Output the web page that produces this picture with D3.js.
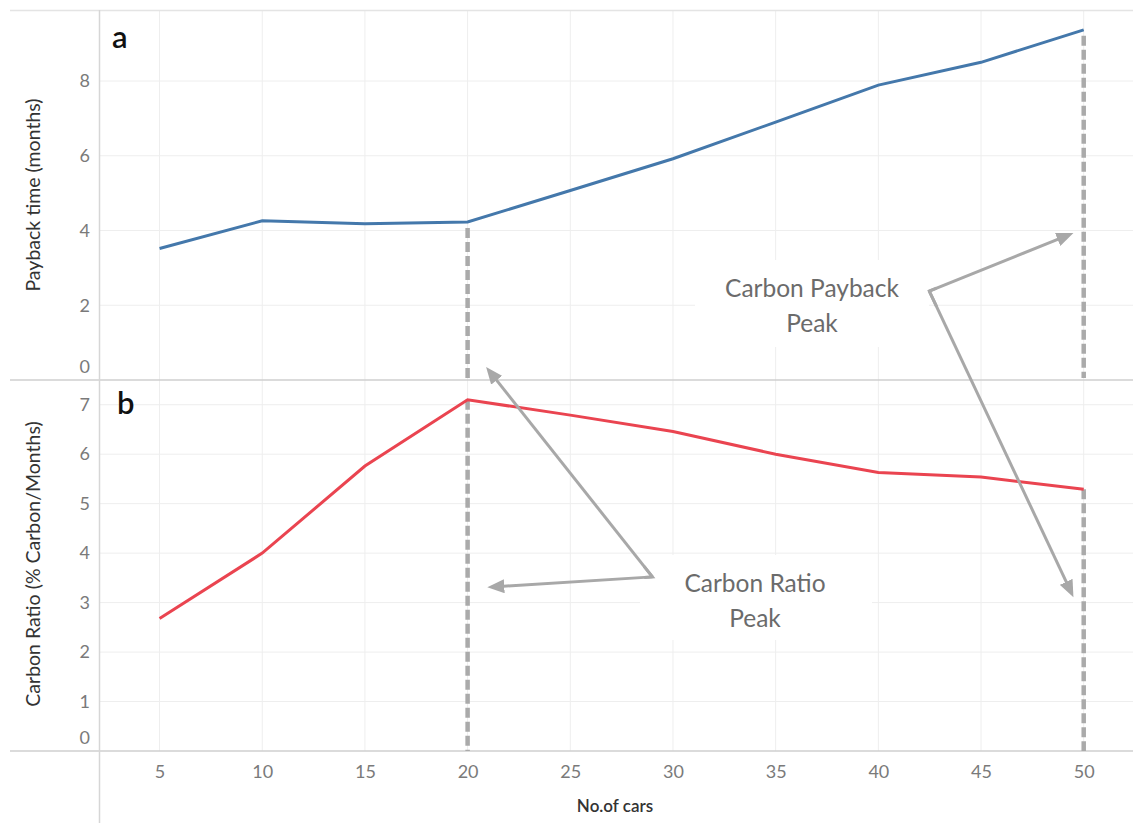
<!DOCTYPE html>
<html>
<head>
<meta charset="utf-8">
<script src="https://cdn.jsdelivr.net/npm/d3@7"></script>
<style>
  body { margin: 0; background: #fff; }
  text { font-family: Lato, "Open Sans", sans-serif; }
</style>
</head>
<body>
<div id="wrapper"></div>
<script>
// data
const cars = [5, 10, 15, 20, 25, 30, 35, 40, 45, 50];
const paybackMonths = [3.52, 4.26, 4.18, 4.23, 5.07, 5.92, 6.9, 7.89, 8.5, 9.37];
const carbonRatio = [2.68, 4.0, 5.76, 7.1, 6.79, 6.46, 6.0, 5.63, 5.54, 5.29];
const xTicks = [5, 10, 15, 20, 25, 30, 35, 40, 45, 50];
const paybackTicks = [0, 2, 4, 6, 8];
const ratioTicks = [0, 1, 2, 3, 4, 5, 6, 7];
const peakCars = [20, 50];

function buildChart() {
    const dimension = {
        width: 1133,
        height: 823,
        left: 100,
        right: 1133,
        top: 10,
        mid: 380,
        bottom: 751
    };

    const svg = d3.select("#wrapper").append("svg")
        .attr("width", dimension.width)
        .attr("height", dimension.height);

    const xScaler = d3.scaleLinear().domain([2.1, 52.4]).range([dimension.left, dimension.right]);
    const yTop = d3.scaleLinear().domain([0, 9.9]).range([dimension.mid, dimension.top]);
    const yBottom = d3.scaleLinear().domain([0, 7.5]).range([dimension.bottom, dimension.mid]);

    // gridlines
    const grid = svg.append("g").attr("stroke", "#eeeeee").attr("stroke-width", 1);
    grid.selectAll(".vx").data(xTicks).join("line")
        .attr("x1", d => xScaler(d)).attr("x2", d => xScaler(d))
        .attr("y1", dimension.top).attr("y2", dimension.bottom);
    grid.selectAll(".ha").data(paybackTicks.filter(d => d > 0)).join("line")
        .attr("x1", dimension.left).attr("x2", dimension.right)
        .attr("y1", d => yTop(d)).attr("y2", d => yTop(d));
    grid.selectAll(".hb").data(ratioTicks.filter(d => d > 0)).join("line")
        .attr("x1", dimension.left).attr("x2", dimension.right)
        .attr("y1", d => yBottom(d)).attr("y2", d => yBottom(d));

    // white boxes behind annotation text (Tableau hides gridlines there)
    svg.append("rect").attr("x", 695).attr("y", 260).attr("width", 234).attr("height", 87).attr("fill", "#fff");
    svg.append("rect").attr("x", 640).attr("y", 555).attr("width", 232).attr("height", 85).attr("fill", "#fff");

    // frame lines
    svg.append("line").attr("x1", 10).attr("x2", dimension.right).attr("y1", dimension.top + 0.5).attr("y2", dimension.top + 0.5)
        .attr("stroke", "#e4e4e4").attr("stroke-width", 1.5);
    svg.append("line").attr("x1", 10).attr("x2", dimension.right).attr("y1", dimension.mid).attr("y2", dimension.mid)
        .attr("stroke", "#cfcfcf").attr("stroke-width", 1.5);
    svg.append("line").attr("x1", 10).attr("x2", dimension.right).attr("y1", dimension.bottom).attr("y2", dimension.bottom)
        .attr("stroke", "#cfcfcf").attr("stroke-width", 1.5);
    svg.append("line").attr("x1", dimension.left - 0.5).attr("x2", dimension.left - 0.5).attr("y1", dimension.top).attr("y2", dimension.height)
        .attr("stroke", "#d6d6d6").attr("stroke-width", 1.5);

    // y axes
    const axisTop = svg.append("g")
        .attr("transform", `translate(${dimension.left - 10},0)`)
        .call(d3.axisLeft(yTop).tickValues(paybackTicks).tickSize(0).tickPadding(0));
    const axisBottom = svg.append("g")
        .attr("transform", `translate(${dimension.left - 10},0)`)
        .call(d3.axisLeft(yBottom).tickValues(ratioTicks).tickSize(0).tickPadding(0));
    [axisTop, axisBottom].forEach(ax => {
        ax.select(".domain").remove();
        ax.selectAll("text")
            .attr("fill", "#7a7a7a")
            .style("font-size", "18px")
            .attr("dy", d => d === 0 ? "-0.4em" : "0.32em");
    });

    // x axis
    const axisX = svg.append("g")
        .attr("transform", `translate(0,${dimension.bottom + 14})`)
        .call(d3.axisBottom(xScaler).tickValues(xTicks).tickSize(0).tickPadding(0));
    axisX.select(".domain").remove();
    axisX.selectAll("text").attr("fill", "#7a7a7a").style("font-size", "18px").attr("dy", "0.71em");

    // axis titles
    svg.append("text")
        .attr("transform", `translate(40,195) rotate(-90)`)
        .attr("text-anchor", "middle")
        .attr("fill", "#333")
        .style("font-size", "19.5px")
        .text("Payback time (months)");
    svg.append("text")
        .attr("transform", `translate(40,564) rotate(-90)`)
        .attr("text-anchor", "middle")
        .attr("fill", "#333")
        .style("font-size", "19.5px")
        .text("Carbon Ratio (% Carbon/Months)");
    svg.append("text")
        .attr("x", 615).attr("y", 812)
        .attr("text-anchor", "middle")
        .attr("fill", "#333")
        .style("font-size", "17px")
        .style("font-weight", 600)
        .text("No.of cars");

    // panel letters
    svg.append("text").attr("x", 112).attr("y", 48).style("font-size", "31px").style("font-weight", 600).attr("fill", "#111").text("a");
    svg.append("text").attr("x", 117).attr("y", 414).style("font-size", "31px").style("font-weight", 600).attr("fill", "#111").text("b");

    // drop lines at the peaks
    const drops = svg.append("g")
        .attr("stroke", "#aaaaaa").attr("stroke-width", 4.5).attr("stroke-dasharray", "10,4");
    peakCars.forEach(c => {
        const i = cars.indexOf(c);
        drops.append("line")
            .attr("x1", xScaler(c)).attr("x2", xScaler(c))
            .attr("y1", yTop(paybackMonths[i]) + 6).attr("y2", yTop(0) - 2);
        drops.append("line")
            .attr("x1", xScaler(c)).attr("x2", xScaler(c))
            .attr("y1", yBottom(carbonRatio[i])).attr("y2", yBottom(0));
    });

    // lines
    const lineTop = d3.line().x((d, i) => xScaler(cars[i])).y(d => yTop(d));
    const lineBottom = d3.line().x((d, i) => xScaler(cars[i])).y(d => yBottom(d));
    svg.append("path").attr("d", lineTop(paybackMonths))
        .attr("fill", "none").attr("stroke", "#4478ab").attr("stroke-width", 3);
    svg.append("path").attr("d", lineBottom(carbonRatio))
        .attr("fill", "none").attr("stroke", "#ea4450").attr("stroke-width", 3);

    // annotation arrows
    svg.append("defs").append("marker")
        .attr("id", "head")
        .attr("markerUnits", "userSpaceOnUse")
        .attr("markerWidth", 18).attr("markerHeight", 14)
        .attr("refX", 4).attr("refY", 7)
        .attr("orient", "auto")
        .append("path").attr("d", "M0,0 L17,7 L0,14 Z").attr("fill", "#a8a8a8");

    const arrows = [
        { from: [xScaler(42.48), yTop(2.38)], to: [xScaler(49.5), yTop(3.93)] },
        { from: [xScaler(42.48), yTop(2.38)], to: [xScaler(49.5), yBottom(3.11)] },
        { from: [xScaler(29.0), yBottom(3.52)], to: [xScaler(20.9), yTop(0.35)] },
        { from: [xScaler(29.0), yBottom(3.52)], to: [xScaler(20.96), yBottom(3.31)] }
    ];
    arrows.forEach(a => {
        const dx = a.to[0] - a.from[0], dy = a.to[1] - a.from[1];
        const len = Math.sqrt(dx * dx + dy * dy);
        const k = (len - 13) / len;
        svg.append("line")
            .attr("x1", a.from[0]).attr("y1", a.from[1])
            .attr("x2", a.from[0] + dx * k).attr("y2", a.from[1] + dy * k)
            .attr("stroke", "#a8a8a8").attr("stroke-width", 3)
            .attr("marker-end", "url(#head)");
    });
    // joints at arrow starts
    [[0, 1], [2, 3]].forEach(([p, q]) => {
        const o = arrows[p].from;
        const near = t => [o[0] + (t[0] - o[0]) * 0.05, o[1] + (t[1] - o[1]) * 0.05];
        svg.append("path")
            .attr("d", d3.line()([near(arrows[p].to), o, near(arrows[q].to)]))
            .attr("fill", "none").attr("stroke", "#a8a8a8").attr("stroke-width", 3).attr("stroke-linejoin", "miter");
    });

    // annotation text
    const noteStyle = sel => sel.attr("text-anchor", "middle").attr("fill", "#6b6b6b").style("font-size", "24.5px");
    svg.append("text").attr("x", 812).attr("y", 297).call(noteStyle).text("Carbon Payback");
    svg.append("text").attr("x", 812).attr("y", 332).call(noteStyle).text("Peak");
    svg.append("text").attr("x", 755).attr("y", 592).call(noteStyle).text("Carbon Ratio");
    svg.append("text").attr("x", 755).attr("y", 627).call(noteStyle).text("Peak");
}

buildChart();
</script>
</body>
</html>
